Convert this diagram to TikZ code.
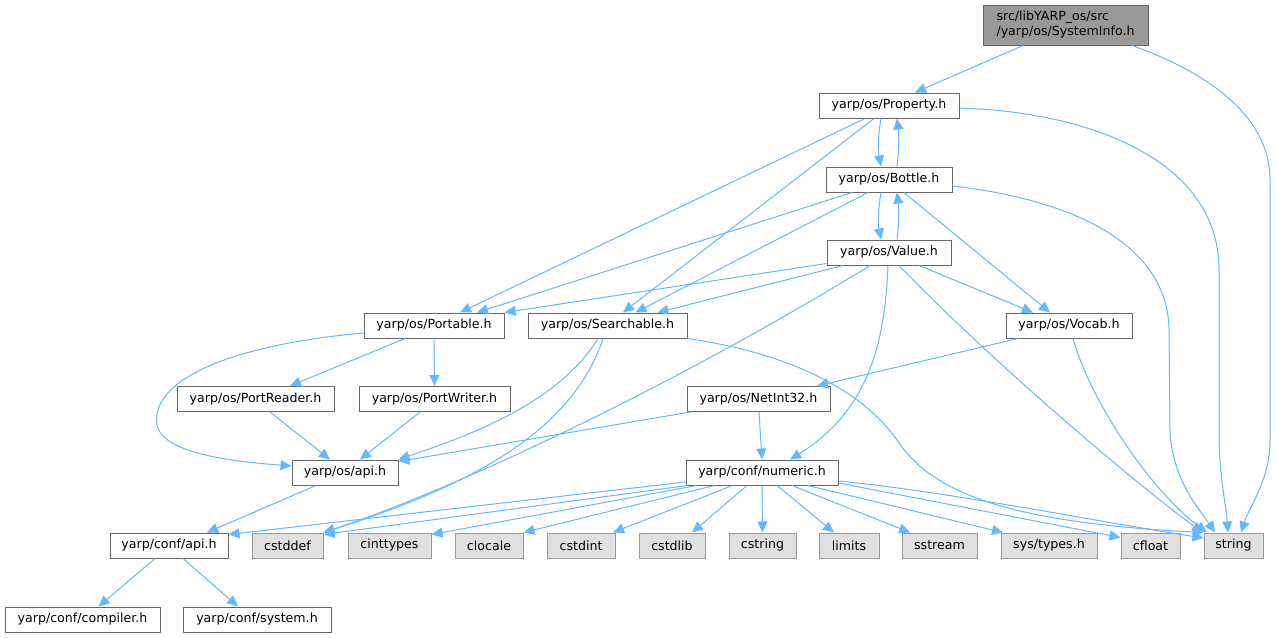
\documentclass[tikz,border=0pt]{standalone}
\usepackage{fontspec}
\setmainfont{DejaVu Sans}
\usetikzlibrary{arrows.meta}
\definecolor{edgecol}{HTML}{63B8FF}
\definecolor{boxline}{HTML}{666666}
\definecolor{extline}{HTML}{999999}
\definecolor{extfill}{HTML}{E0E0E0}
\definecolor{rootfill}{HTML}{999999}
\tikzset{
  hdr/.style={rectangle, inner sep=0pt, minimum height=25pt, line width=1pt,
    font=\fontsize{12.6pt}{15pt}\selectfont, text=black},
  inc/.style={hdr, draw=boxline, fill=white},
  sysinc/.style={hdr, draw=extline, fill=extfill},
  rootbox/.style={hdr, draw=boxline, fill=rootfill, minimum height=40pt, align=left},
  dep/.style={draw=edgecol, line width=1pt, -{Triangle[length=11pt,width=10pt]}}
}
\begin{document}
\begin{tikzpicture}[x=1pt,y=-1pt]
\fill[white] (0,0) rectangle (1276,637);
\useasboundingbox (0,0) rectangle (1276,637);

% nodes
\node[rootbox, minimum width=165pt] (root) at (1065.5,25) {src/libYARP\_os/src\\/yarp/os/SystemInfo.h};
\node[inc, minimum width=140pt] (prop) at (889,105.5) {yarp/os/Property.h};
\node[inc, minimum width=126pt] (bottle) at (889,179.5) {yarp/os/Bottle.h};
\node[inc, minimum width=124pt] (value) at (889,252.5) {yarp/os/Value.h};
\node[inc, minimum width=140pt] (portable) at (434,325.5) {yarp/os/Portable.h};
\node[inc, minimum width=159pt] (search) at (607.5,325.5) {yarp/os/Searchable.h};
\node[inc, minimum width=126pt] (vocab) at (1069,325.5) {yarp/os/Vocab.h};
\node[inc, minimum width=157pt] (preader) at (255.5,399) {yarp/os/PortReader.h};
\node[inc, minimum width=151pt] (pwriter) at (434.5,399) {yarp/os/PortWriter.h};
\node[inc, minimum width=143pt] (netint) at (758.5,399) {yarp/os/NetInt32.h};
\node[inc, minimum width=106pt] (osapi) at (345,472.5) {yarp/os/api.h};
\node[inc, minimum width=152pt] (numeric) at (762,472.5) {yarp/conf/numeric.h};
\node[inc, minimum width=118pt] (confapi) at (169,545.5) {yarp/conf/api.h};
\node[sysinc, minimum width=71pt] (cstddef) at (287.5,545.5) {cstddef};
\node[sysinc, minimum width=83pt] (cinttypes) at (389.5,545.5) {cinttypes};
\node[sysinc, minimum width=68pt] (clocale) at (489,545.5) {clocale};
\node[sysinc, minimum width=68pt] (cstdint) at (581,545.5) {cstdint};
\node[sysinc, minimum width=66pt] (cstdlib) at (672,545.5) {cstdlib};
\node[sysinc, minimum width=67pt] (cstring) at (762.5,545.5) {cstring};
\node[sysinc, minimum width=60pt] (limits) at (849,545.5) {limits};
\node[sysinc, minimum width=75pt] (sstream) at (939.5,545.5) {sstream};
\node[sysinc, minimum width=96pt] (systypes) at (1049,545.5) {sys/types.h};
\node[sysinc, minimum width=59pt] (cfloat) at (1150.5,545.5) {cfloat};
\node[sysinc, minimum width=59pt] (string) at (1233.5,545.5) {string};
\node[inc, minimum width=155pt] (compiler) at (82.5,619.5) {yarp/conf/compiler.h};
\node[inc, minimum width=148pt] (system) at (257,619.5) {yarp/conf/system.h};

% edges
\draw[dep] ([xshift=-42.5pt]root.south) -- ([xshift=26pt]prop.north);
\draw[dep] ([xshift=66.5pt]root.south) .. controls (1215,75) and (1270,120) .. (1270,180) -- (1270,440) .. controls (1270,480) and (1250,505) .. ([xshift=7.5pt]string.north);

\draw[dep] ([yshift=-2.5pt]prop.east) .. controls (1090,112) and (1219,160) .. (1219,270) -- (1219,440) .. controls (1220,480) and (1226,505) .. ([xshift=-5.5pt]string.north);
\draw[dep] ([xshift=-8pt]prop.south) .. controls (878,135) and (878,150) .. ([xshift=-8pt]bottle.north);
\draw[dep] ([xshift=8pt]bottle.north) .. controls (899,150) and (899,135) .. ([xshift=8pt]prop.south);
\draw[dep] ([xshift=-24pt]prop.south) -- ([xshift=26pt]portable.north);
\draw[dep] ([xshift=-15pt]prop.south) -- ([xshift=15.5pt]search.north);

\draw[dep] ([yshift=-6.5pt]bottle.east) .. controls (1075,200) and (1168,245) .. (1169,330) -- (1170,430) .. controls (1172,480) and (1200,510) .. ([xshift=-18.5pt]string.north);
\draw[dep] ([xshift=-8pt]bottle.south) .. controls (878,209) and (878,224) .. ([xshift=-8pt]value.north);
\draw[dep] ([xshift=8pt]value.north) .. controls (899,224) and (899,209) .. ([xshift=8pt]bottle.south);
\draw[dep] ([xshift=-37pt]bottle.south) -- ([xshift=43pt]portable.north);
\draw[dep] ([xshift=-21pt]bottle.south) -- ([xshift=28pt]search.north);
\draw[dep] ([xshift=15pt]bottle.south) -- ([xshift=-19pt]vocab.north);

\draw[dep] ([yshift=-11pt]value.west) -- (portable.north east);
\draw[dep] ([xshift=-46pt]value.south) -- ([xshift=50pt]search.north);
\draw[dep] ([xshift=30pt]value.south) -- ([xshift=-36pt]vocab.north);
\draw[dep] ([xshift=-19pt]value.south) .. controls (700,370) and (480,480) .. (cstddef.north east);
\draw[dep] ([xshift=-1pt]value.south) .. controls (885,340) and (870,410) .. ([xshift=28pt]numeric.north);
\draw[dep] ([xshift=10pt]value.south) .. controls (1000,370) and (1150,495) .. ([xshift=-30.5pt]string.north);

\draw[dep] ([xshift=-29pt]portable.south) -- ([xshift=34.5pt]preader.north);
\draw[dep] (portable.south) -- (pwriter.north);
\draw[dep] ([yshift=-7.5pt]portable.west) .. controls (230,345) and (150,380) .. (157,425) .. controls (163,455) and (240,462) .. ([yshift=6.5pt]osapi.west);

\draw[dep] ([xshift=-9.5pt]search.south) .. controls (560,400) and (480,432) .. (osapi.north east);
\draw[dep] ([xshift=-4.5pt]search.south) .. controls (570,440) and (450,492) .. (cstddef.north east);
\draw[dep] (search.south east) .. controls (800,355) and (865,395) .. (897,440) .. controls (930,490) and (1000,522) .. (string.north west);

\draw[dep] ([xshift=-51pt]vocab.south) -- ([xshift=58.5pt]netint.north);
\draw[dep] ([xshift=4pt]vocab.south) .. controls (1090,400) and (1150,490) .. ([xshift=-26.5pt]string.north);

\draw[dep] ([xshift=14.5pt]preader.south) -- ([xshift=-15pt]osapi.north);
\draw[dep] ([xshift=-14.5pt]pwriter.south) -- ([xshift=15pt]osapi.north);
\draw[dep] ([xshift=4pt]netint.south west) -- ([yshift=-2pt]osapi.north east);
\draw[dep] ([xshift=0.5pt]netint.south) -- (numeric.north);

\draw[dep] ([xshift=-29pt]osapi.south) -- ([xshift=38pt]confapi.north);

\draw[dep] ([yshift=-9.5pt]numeric.west) -- ([yshift=-2pt]confapi.north east);
\draw[dep] ([xshift=2pt]numeric.south west) -- ([yshift=-2pt]cstddef.north east);
\draw[dep] ([xshift=11pt]numeric.south west) -- ([yshift=-2pt]cinttypes.north east);
\draw[dep] ([xshift=29pt]numeric.south west) -- (clocale.north east);
\draw[dep] ([xshift=47pt]numeric.south west) -- ([xshift=32pt]cstdint.north);
\draw[dep] ([xshift=-15pt]numeric.south) -- ([xshift=20pt]cstdlib.north);
\draw[dep] (numeric.south) -- (cstring.north);
\draw[dep] ([xshift=15pt]numeric.south) -- ([xshift=-15pt]limits.north);
\draw[dep] ([xshift=30pt]numeric.south) -- ([xshift=-29.5pt]sstream.north);
\draw[dep] ([xshift=46pt]numeric.south) -- ([xshift=-46pt]systypes.north);
\draw[dep] ([yshift=-10.5pt]numeric.east) -- ([yshift=8pt]cfloat.west);
\draw[dep] ([yshift=-8.5pt]numeric.east) .. controls (950,492) and (1100,522) .. ([yshift=7.5pt]string.west);

\draw[dep] ([xshift=-14pt]confapi.south) -- ([xshift=16pt]compiler.north);
\draw[dep] ([xshift=14pt]confapi.south) -- ([xshift=-19pt]system.north);
\end{tikzpicture}
\end{document}
